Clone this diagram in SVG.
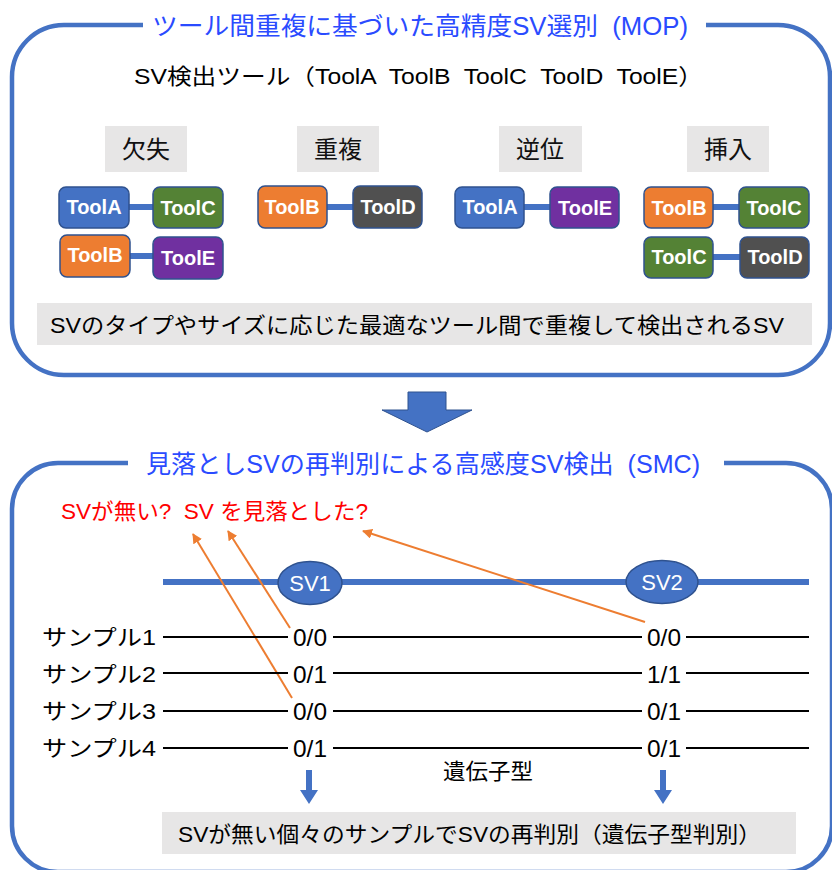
<svg xmlns="http://www.w3.org/2000/svg" width="832" height="870" viewBox="0 0 832 870">
<defs>
<style>
text{font-family:"Liberation Sans","Noto Sans CJK JP",sans-serif;white-space:pre;}
.frame{fill:none;stroke:#4472C4;stroke-width:4.5;}
.title{fill:#2A4BFF;font-size:25px;}
.blk{fill:#000;font-size:22px;}
.cat{fill:#E7E6E6;}
.catt{fill:#111;font-size:24px;text-anchor:middle;}
.tool rect{stroke:#2F528F;stroke-width:1.5;}
.tool text{fill:#fff;font-size:20px;font-weight:bold;text-anchor:middle;}
.conn{stroke:#4472C4;stroke-width:6;}
.row{stroke:#000;stroke-width:2;}
.gt{fill:#000;font-size:24px;}
.or{stroke:#ED7D31;stroke-width:2;fill:none;marker-end:url(#oa);}
</style>
<marker id="oa" viewBox="0 0 10 10" refX="9" refY="5" markerWidth="5" markerHeight="5" orient="auto" markerUnits="strokeWidth">
<path d="M0,0 L10,5 L0,10 z" fill="#ED7D31"/>
</marker>
</defs>
<rect width="832" height="870" fill="#fff"/>

<!-- top frame -->
<path class="frame" d="M143,25 H64 A52,52 0 0 0 12,77 V323 A52,52 0 0 0 64,375 H778 A52,52 0 0 0 830,323 V77 A52,52 0 0 0 778,25 H706"/>
<text class="title" x="152" y="35" textLength="536" lengthAdjust="spacingAndGlyphs" xml:space="preserve">ツール間重複に基づいた高精度SV選別  (MOP)</text>
<text class="blk" x="134" y="84" font-size="23" textLength="569" lengthAdjust="spacingAndGlyphs" xml:space="preserve">SV検出ツール（ToolA  ToolB  ToolC  ToolD  ToolE）</text>

<g id="cat-deletion">
<rect class="cat" x="105" y="126" width="82" height="46"/>
<text class="catt" x="146" y="158">欠失</text>
</g>
<g id="cat-duplication">
<rect class="cat" x="297" y="126" width="82" height="46"/>
<text class="catt" x="338" y="158">重複</text>
</g>
<g id="cat-inversion">
<rect class="cat" x="499" y="126" width="83" height="46"/>
<text class="catt" x="540" y="158">逆位</text>
</g>
<g id="cat-insertion">
<rect class="cat" x="687" y="126" width="82" height="46"/>
<text class="catt" x="728" y="158">挿入</text>
</g>

<g id="connectors">
<line class="conn" x1="129" y1="207" x2="153" y2="207"/>
<line class="conn" x1="130" y1="256" x2="153" y2="256"/>
<line class="conn" x1="327" y1="207" x2="353" y2="207"/>
<line class="conn" x1="524" y1="207" x2="550" y2="207"/>
<line class="conn" x1="713" y1="207" x2="739" y2="207"/>
<line class="conn" x1="713" y1="257" x2="740" y2="257"/>
<line x1="163" y1="582" x2="809" y2="582" stroke="#4472C4" stroke-width="6"/>
<line class="or" x1="290" y1="628" x2="228" y2="531"/>
<line class="or" x1="292" y1="698" x2="193" y2="534"/>
<line class="or" x1="645" y1="622" x2="363" y2="531"/>
</g>

<g id="del-toolA" class="tool"><rect x="59" y="187" width="70" height="41" rx="7" fill="#4472C4"/><text x="94" y="214">ToolA</text></g>
<g id="del-toolC" class="tool"><rect x="153" y="187" width="70" height="41" rx="7" fill="#548235"/><text x="188" y="215">ToolC</text></g>
<g id="del-toolB" class="tool"><rect x="60" y="235" width="70" height="42" rx="7" fill="#ED7D31"/><text x="95" y="262">ToolB</text></g>
<g id="del-toolE" class="tool"><rect x="153" y="237" width="70" height="42" rx="7" fill="#7030A0"/><text x="188" y="265">ToolE</text></g>

<g id="dup-toolB" class="tool"><rect x="258" y="186" width="69" height="42" rx="7" fill="#ED7D31"/><text x="292" y="214">ToolB</text></g>
<g id="dup-toolD" class="tool"><rect x="353" y="186" width="69" height="42" rx="7" fill="#505050"/><text x="388" y="214">ToolD</text></g>

<g id="inv-toolA" class="tool"><rect x="455" y="187" width="69" height="41" rx="7" fill="#4472C4"/><text x="490" y="214">ToolA</text></g>
<g id="inv-toolE" class="tool"><rect x="550" y="187" width="69" height="41" rx="7" fill="#7030A0"/><text x="585" y="215">ToolE</text></g>

<g id="ins-toolB" class="tool"><rect x="644" y="187" width="69" height="41" rx="7" fill="#ED7D31"/><text x="679" y="215">ToolB</text></g>
<g id="ins-toolC" class="tool"><rect x="739" y="187" width="70" height="41" rx="7" fill="#548235"/><text x="774" y="215">ToolC</text></g>
<g id="ins-toolC2" class="tool"><rect x="644" y="237" width="69" height="41" rx="7" fill="#548235"/><text x="679" y="264">ToolC</text></g>
<g id="ins-toolD" class="tool"><rect x="740" y="237" width="69" height="41" rx="7" fill="#505050"/><text x="775" y="264">ToolD</text></g>

<g id="mop-summary">
<rect class="cat" x="37" y="303" width="775" height="42"/>
<text class="blk" x="50" y="333" font-size="23" textLength="734" lengthAdjust="spacingAndGlyphs">SVのタイプやサイズに応じた最適なツール間で重複して検出されるSV</text>
</g>

<g id="big-arrow">
<path d="M408,392 H446 V410 H472 L427,432 L382,410 H408 Z" fill="#4472C4" stroke="#2F528F" stroke-width="1"/>
</g>

<!-- bottom frame -->
<path class="frame" d="M128,463 H58 A46,46 0 0 0 12,509 V826 A46,46 0 0 0 58,872 H786 A46,46 0 0 0 832,826 V509 A46,46 0 0 0 786,463 H724"/>
<text class="title" x="146" y="473" textLength="554" lengthAdjust="spacingAndGlyphs" xml:space="preserve">見落としSVの再判別による高感度SV検出  (SMC)</text>

<text x="61" y="519" fill="#FF0000" font-size="22" textLength="307" lengthAdjust="spacingAndGlyphs" xml:space="preserve">SVが無い?  SV を見落とした?</text>

<g id="sv1">
<ellipse cx="310" cy="583" rx="32" ry="21.5" fill="#4472C4" stroke="#2F528F" stroke-width="1.5"/>
<text x="310" y="591" fill="#fff" font-size="22" text-anchor="middle">SV1</text>
</g>
<g id="sv2">
<ellipse cx="662" cy="582" rx="36" ry="21.5" fill="#4472C4" stroke="#2F528F" stroke-width="1.5"/>
<text x="662" y="590" fill="#fff" font-size="22" text-anchor="middle">SV2</text>
</g>

<g id="samples">
<text class="blk" x="42" y="645" font-size="23" textLength="114" lengthAdjust="spacingAndGlyphs">サンプル1</text>
<text class="blk" x="42" y="682" font-size="23" textLength="114" lengthAdjust="spacingAndGlyphs">サンプル2</text>
<text class="blk" x="42" y="719" font-size="23" textLength="114" lengthAdjust="spacingAndGlyphs">サンプル3</text>
<text class="blk" x="42" y="756" font-size="23" textLength="114" lengthAdjust="spacingAndGlyphs">サンプル4</text>
<line class="row" x1="163" y1="637" x2="288" y2="637"/><line class="row" x1="333" y1="637" x2="642" y2="637"/><line class="row" x1="686" y1="637" x2="809" y2="637"/>
<line class="row" x1="163" y1="673" x2="288" y2="673"/><line class="row" x1="333" y1="673" x2="642" y2="673"/><line class="row" x1="686" y1="673" x2="809" y2="673"/>
<line class="row" x1="163" y1="711" x2="288" y2="711"/><line class="row" x1="333" y1="711" x2="642" y2="711"/><line class="row" x1="686" y1="711" x2="809" y2="711"/>
<line class="row" x1="163" y1="748" x2="288" y2="748"/><line class="row" x1="333" y1="748" x2="642" y2="748"/><line class="row" x1="686" y1="748" x2="809" y2="748"/>
<text class="gt" x="293" y="646" textLength="34" lengthAdjust="spacingAndGlyphs">0/0</text><text class="gt" x="647" y="646" textLength="34" lengthAdjust="spacingAndGlyphs">0/0</text>
<text class="gt" x="293" y="683" textLength="34" lengthAdjust="spacingAndGlyphs">0/1</text><text class="gt" x="647" y="683" textLength="34" lengthAdjust="spacingAndGlyphs">1/1</text>
<text class="gt" x="293" y="720" textLength="34" lengthAdjust="spacingAndGlyphs">0/0</text><text class="gt" x="647" y="720" textLength="34" lengthAdjust="spacingAndGlyphs">0/1</text>
<text class="gt" x="293" y="757" textLength="34" lengthAdjust="spacingAndGlyphs">0/1</text><text class="gt" x="647" y="757" textLength="34" lengthAdjust="spacingAndGlyphs">0/1</text>
<text class="blk" x="443" y="779" font-size="23" textLength="90" lengthAdjust="spacingAndGlyphs">遺伝子型</text>
</g>

<g id="small-arrows">
<path d="M306,770 H312 V790 H318 L309,804 L300,790 H306 Z" fill="#4472C4"/>
<path d="M660,770 H666 V790 H672 L663,804 L654,790 H660 Z" fill="#4472C4"/>
</g>

<g id="smc-summary">
<rect class="cat" x="162" y="812" width="634" height="42"/>
<text class="blk" x="178" y="842" font-size="23" textLength="583" lengthAdjust="spacingAndGlyphs">SVが無い個々のサンプルでSVの再判別（遺伝子型判別）</text>
</g>
</svg>
